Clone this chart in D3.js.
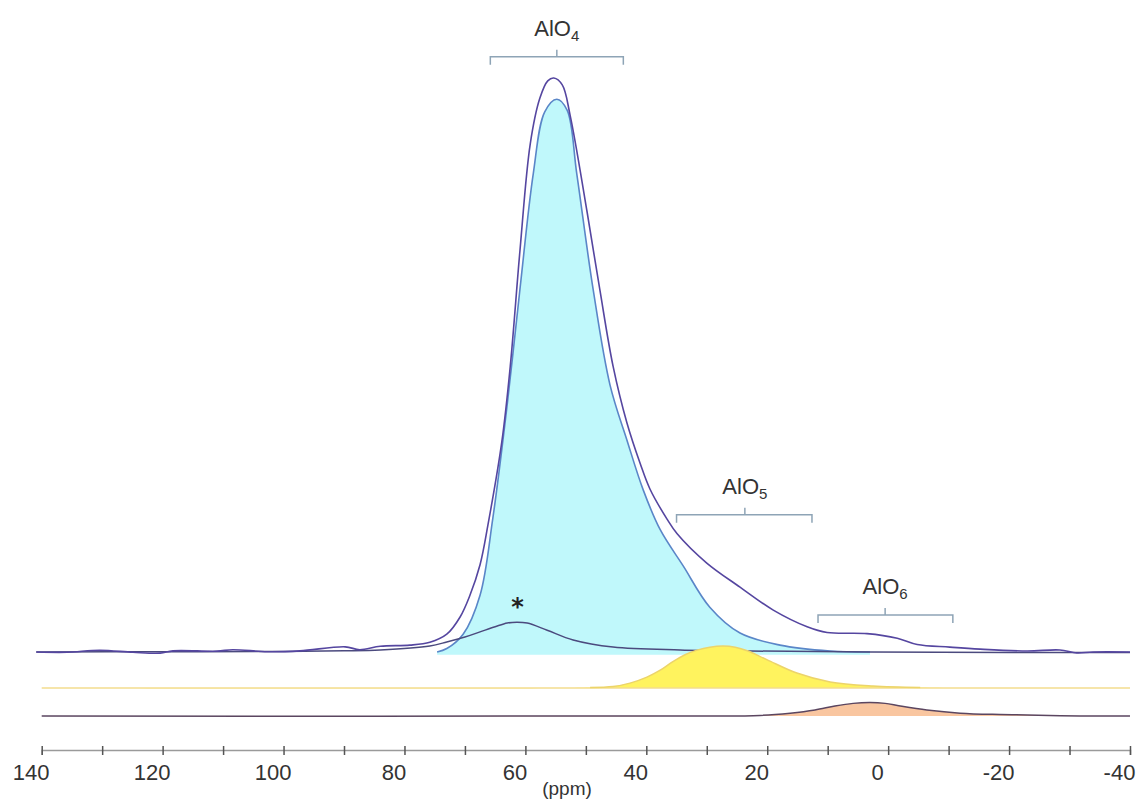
<!DOCTYPE html>
<html><head><meta charset="utf-8">
<script src="https://cdn.jsdelivr.net/npm/d3@7"></script>
<style>body{margin:0;background:#fff}svg{display:block}</style>
</head><body>
<svg id="c" width="1139" height="801"></svg>
<script>
// ---- data: [ppm, intensity] (intensity: total maximum = 100) ----
const totalSpectrum = [
  [140.9,0],[135.8,-0.05],[130.4,0.3],[124.9,-0.05],[120.4,-0.2],[118.3,0.2],[111.0,0.15],
  [108.4,0.4],[102.7,0.05],[97.3,0.2],[89.8,0.9],[87.4,0.4],[84.0,1.0],[79.1,1.2],
  [75.8,1.7],[73.0,3.1],[70.8,6.1],[69.2,9.8],[67.5,15.2],[66.2,22.1],[63.9,36.6],
  [62.5,49.8],[60.9,69.9],[59.2,88.5],[57.6,96.5],[56.3,99.5],[55.3,100],[53.9,98.8],
  [52.6,93.5],[49.8,76.7],[47.7,63.2],[45.5,49.8],[43.2,39.9],[41.0,32.8],[39.4,28.4],
  [36.6,23.2],[34.9,20.6],[30.0,15.5],[24.5,11.3],[19.0,7.3],[13.4,4.4],[10.1,3.4],
  [3.5,3.2],[-1.5,2.4],[-4.8,1.3],[-10.2,0.85],[-15.2,0.5],[-23.0,0.17],[-28.4,0.35],
  [-31.2,-0.17],[-33.9,0],[-40,0]
];
const alo4Fit = [
  [74.6,0],[73.0,0.6],[70.3,3.1],[67.5,9.9],[65.4,23.2],[63.0,43.2],[60.9,63.2],
  [58.7,83.3],[56.8,94.1],[54.8,96.3],[53.1,94.4],[51.5,83.3],[48.8,63.2],[46.0,46.5],
  [43.2,36.9],[40.5,28.2],[37.7,21.3],[33.9,15.0],[29.5,7.8],[24.5,3.3],[17.9,1.2],
  [9.6,0.17],[3.0,0]
];
const sidebandFit = [
  [140.9,0],[120,0.05],[100,0.1],[90,0.2],[84.0,0.35],[75.8,1.05],[73.0,1.74],[70.0,2.6],
  [67.5,3.5],[65.0,4.4],[63.0,5.05],[61.4,5.2],[59.7,5.05],[56.4,3.8],[52.1,2.1],[45.5,0.87],
  [34.4,0.35],[22.8,0.17],[3.0,0],[-20,-0.1],[-40,-0.1]
];
const alo5Fit = [
  [140,0],[54.3,0],[49.3,0.1],[45.5,0.25],[42.7,0.85],[39.9,1.9],[37.7,3.1],[35.6,4.6],
  [33.6,5.8],[31.6,6.6],[29.5,7.1],[27.3,7.3],[25.3,7.1],[23.3,6.5],[20.0,4.9],[15.1,2.6],
  [9.6,1.05],[2.5,0.35],[-5.3,0.1],[-11.9,0],[-40,0]
];
const alo6Fit = [
  [140,0],[31.1,0],[21.2,0.1],[16.2,0.5],[12.1,1.05],[8.8,1.74],[5.8,2.2],[3.0,2.35],
  [0.5,2.2],[-2.0,1.74],[-6.4,1.05],[-11.9,0.5],[-18.5,0.26],[-23.0,0.17],[-31.7,0],[-40,0]
];
const axisTicks = [140,130,120,110,100,90,80,70,60,50,40,30,20,10,0,-10,-20,-30,-40];
const axisLabels = [140,120,100,80,60,40,20,0,-20,-40];
const bracketNames = ["AlO", "AlO", "AlO"];
const bracketSubs = ["4", "5", "6"];
const bracketFrom = [65.8, 35.0, 11.6];
const bracketTo = [43.8, 12.6, -10.7];
const bracketMid = [54.8, 23.7, 0.5];
const bracketLevel = [103.7, 23.9, 6.45];
const sidebandMark = {ppm: 61.3, level: 8.7, text: "*"};
const xTitle = "(ppm)";

// ---- layout ----
const svg = d3.select("#c");
const x = d3.scaleLinear().domain([140, -40]).range([41.7, 1130]);
const y = d3.scaleLinear().domain([0, 100]).range([652, 78]);
const offYellow = -6.27, offOrange = -11.15;
const curve = d3.curveCatmullRom.alpha(0.5);

const lineGen = (off) => d3.line().x(d => x(d[0])).y(d => y(d[1] + off)).curve(curve);
const areaGen = (off, base) => d3.area().x(d => x(d[0])).y0(y(base + off)).y1(d => y(d[1] + off)).curve(curve);

// AlO4 fit (cyan)
svg.append("path").datum(alo4Fit).attr("d", areaGen(0, -0.5)).attr("fill", "#c0f8fb");
svg.append("path").datum(alo4Fit).attr("d", lineGen(0)).attr("fill", "none")
  .attr("stroke", "#5a86c8").attr("stroke-width", 1.6);
// sideband fit
svg.append("path").datum(sidebandFit).attr("d", lineGen(0)).attr("fill", "none")
  .attr("stroke", "#4b4a7e").attr("stroke-width", 1.5);
// total spectrum
svg.append("path").datum(totalSpectrum).attr("d", lineGen(0)).attr("fill", "none")
  .attr("stroke", "#5546a0").attr("stroke-width", 1.6);

// AlO5 fit (yellow)
svg.append("path").datum(alo5Fit).attr("d", areaGen(offYellow, 0)).attr("fill", "#fff35e");
svg.append("line").attr("x1", x(140)).attr("x2", x(-40)).attr("y1", y(offYellow)).attr("y2", y(offYellow))
  .attr("stroke", "#f3dc8e").attr("stroke-width", 1.5);
svg.append("path").datum(alo5Fit.filter(d => d[1] > 0.05)).attr("d", lineGen(offYellow)).attr("fill", "none")
  .attr("stroke", "#ecd46a").attr("stroke-width", 1.5);

// AlO6 fit (orange)
svg.append("path").datum(alo6Fit).attr("d", areaGen(offOrange, 0)).attr("fill", "#f9c6a0");
svg.append("path").datum(alo6Fit).attr("d", lineGen(offOrange)).attr("fill", "none")
  .attr("stroke", "#5b4660").attr("stroke-width", 1.5);

// brackets
const bc = "#8ea4b6";
bracketNames.forEach((n, i) => {
  const yl = y(bracketLevel[i]);
  const g = svg.append("g").attr("stroke", bc).attr("stroke-width", 1.5).attr("fill", "none");
  g.append("path").attr("d", `M${x(bracketFrom[i])},${yl + 8}V${yl}H${x(bracketTo[i])}V${yl + 8}`);
  g.append("line").attr("x1", x(bracketMid[i])).attr("x2", x(bracketMid[i])).attr("y1", yl - 7).attr("y2", yl);
  const t = svg.append("text").attr("x", x(bracketMid[i])).attr("y", yl - 21)
    .attr("text-anchor", "middle").attr("font-family", "Liberation Sans, Arial, sans-serif")
    .attr("font-size", 22).attr("fill", "#333");
  t.append("tspan").text(n);
  t.append("tspan").attr("font-size", 15).attr("dy", 5).text(bracketSubs[i]);
});

// sideband asterisk
svg.append("text").attr("x", x(sidebandMark.ppm)).attr("y", y(sidebandMark.level) + 13)
  .attr("text-anchor", "middle").attr("font-family", "DejaVu Sans, sans-serif").attr("font-weight", "bold")
  .attr("font-size", 24).attr("fill", "#222").text(sidebandMark.text);

// axis
const labelSet = new Set(axisLabels);
const axisG = svg.append("g").attr("transform", "translate(0,750)")
  .call(d3.axisBottom(x).tickValues(axisTicks).tickSizeOuter(0).tickSize(5)
    .tickFormat(d => labelSet.has(d) ? String(d) : ""));
axisG.select(".domain").attr("stroke", "#9a9a9a").attr("stroke-width", 1.5);
axisG.selectAll(".tick line").attr("y1", -4).attr("y2", 5).attr("stroke", "#555").attr("stroke-width", 1.5);
axisG.selectAll(".tick text").attr("y", 14).attr("dx", -11).attr("fill", "#333")
  .attr("font-family", "Liberation Sans, Arial, sans-serif").attr("font-size", 22);
svg.append("text").attr("x", 567).attr("y", 795).attr("text-anchor", "middle")
  .attr("font-family", "Liberation Sans, Arial, sans-serif").attr("font-size", 19).attr("fill", "#333").text(xTitle);
</script>
</body></html>
